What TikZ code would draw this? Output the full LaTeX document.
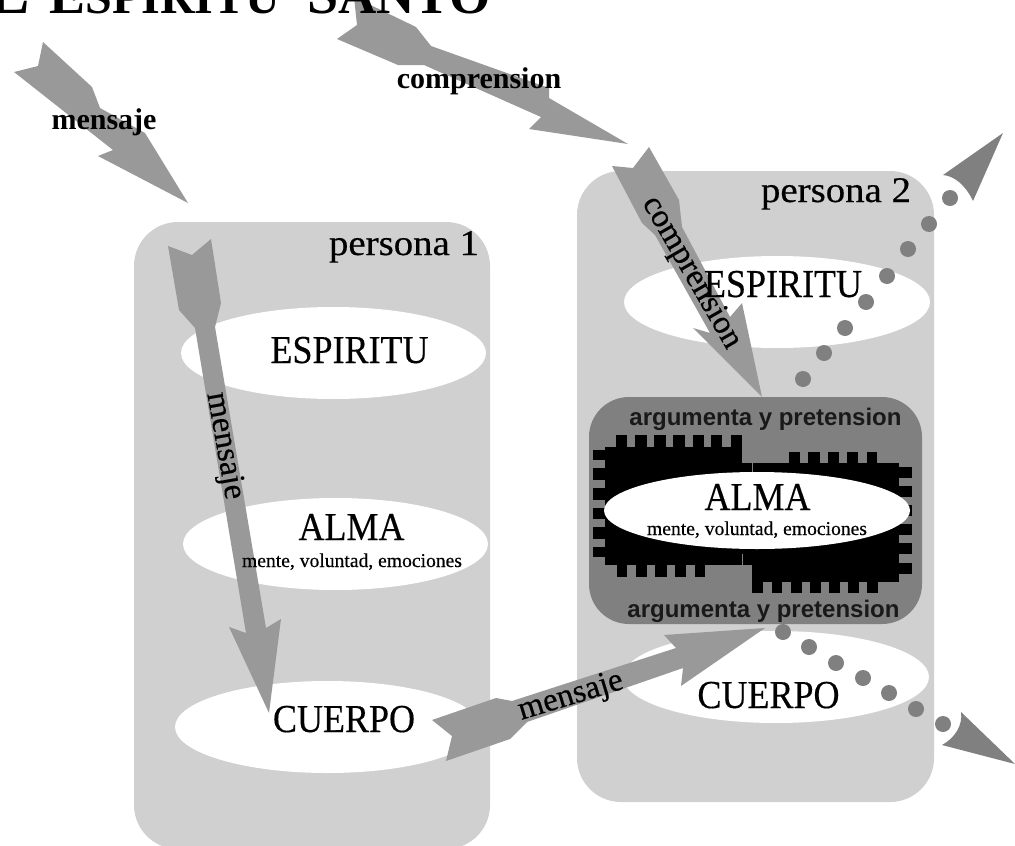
\documentclass[tikz,border=0pt]{standalone}
\usepackage{graphicx}
\usepackage{fontspec}
\setmainfont{Liberation Serif}
\newfontfamily\argfont{Liberation Sans}
\newfontfamily\heavyfont[FakeBold=0.4]{Liberation Serif}
\newcommand{\tallbox}[1]{\scalebox{1}[1.1]{#1}}
\newcommand{\widebox}[1]{\scalebox{1.08}[1]{#1}}
\tikzset{
  persona/.style={fill=boxgray,rounded corners=44pt},
  alma/.style={fill=white},
  arrowshape/.style={fill=arrowgray},
  dotmark/.style={fill=dotgray},
  bigtext/.style={font=\heavyfont\fontsize{36}{36}\selectfont,anchor=base,inner sep=0pt},
  smalltext/.style={font=\heavyfont\fontsize{19.6}{20}\selectfont,anchor=base,inner sep=0pt},
  flowtext/.style={font=\heavyfont\fontsize{33}{33}\selectfont,anchor=center,inner sep=0pt},
  boldtext/.style={font=\fontsize{30}{30}\selectfont\bfseries,anchor=base,inner sep=0pt},
  argtext/.style={font=\argfont\fontsize{24}{24}\selectfont\bfseries,anchor=base,inner sep=0pt,text=black!90},
}
\definecolor{boxgray}{HTML}{D0D0D0}
\definecolor{arrowgray}{HTML}{999999}
\definecolor{dotgray}{HTML}{808080}
\begin{document}
\begin{tikzpicture}[x=1pt,y=-1pt]
\useasboundingbox (0,0) rectangle (1015,846);
\clip (0,0) rectangle (1015,846);
\fill[white] (0,0) rectangle (1015,846);
% boxes
\fill[persona] (134,222) rectangle (490,849);
\fill[persona] (577,171) rectangle (934,802);
% ellipses persona 1
\fill[alma] (333.5,353) ellipse [x radius=152.5,y radius=46];
\fill[alma] (335.5,544) ellipse [x radius=152.5,y radius=46];
\fill[alma] (327.5,727) ellipse [x radius=152.5,y radius=46];
% ellipses persona 2
\fill[alma] (777,302) ellipse [x radius=153,y radius=46];
\fill[alma] (776,677) ellipse [x radius=153,y radius=46];
% dark box
\fill[fill=dotgray,rounded corners=40pt] (589,397) rectangle (922,624);
% black jagged block
\fill[black] (605,447) rectangle (742,565);
\fill[black] (752,463) rectangle (899,582);
\fill[black] (742,463) rectangle (752,565);
\foreach \a/\b in {616/627,635/647,654/666,673/685,693/704,711/722,731/742}
  \fill[black] (\a,435) rectangle (\b,447);
\foreach \a/\b in {450/460,468/480,488/500,508/519,527/539,547/557}
  \fill[black] (593,\a) rectangle (605,\b);
\foreach \a/\b in {617/627,636/647,655/667,675/686,695/705}
  \fill[black] (\a,565) rectangle (\b,577);
\foreach \a/\b in {789/800,808/820,828/839,847/858,867/877}
  \fill[black] (\a,452) rectangle (\b,463);
\foreach \a/\b in {467/478,486/497,505/516,524/535,543/554,563/574}
  \fill[black] (899,\a) rectangle (912,\b);
\foreach \a/\b in {752/763,772/782,791/802,810/821,829/840,848/859,867/878}
  \fill[black] (\a,582) rectangle (\b,593);
\fill[dotgray] (752,463) rectangle (752.6,473);
\fill[dotgray] (741.6,554) rectangle (742.2,565);
\fill[alma] (757,510.5) ellipse [x radius=153,y radius=38.5];
% arrows
\fill[arrowshape] (43,42)--(38,66)--(14,72)--(113,150)--(98,156)--(188,203)--(145,133)--(100,108)--(92,87)--cycle;
\fill[arrowshape] (354,-3)--(357,25)--(337,39)--(398,65)--(424,65)--(541,117)--(529,129)--(628,144)--(549,98)--(549,88)--(431,46)--(416,27)--cycle;
\fill[arrowshape] (168,246)--(192,255)--(211,239)--(221,303)--(215,327)--(266,628)--(281,619)--(269,713)--(229,627)--(246,633)--(195,328)--(179,310)--cycle;
\fill[arrowshape] (649,147)--(633,168)--(612,166)--(642,223)--(655,235)--(710,333)--(693,328)--(762,397)--(742,303)--(730,317)--(682,227)--(679,200)--cycle;
\fill[arrowshape] (432,720)--(452,736)--(446,761)--(510,739)--(527,722)--(683,668)--(681,686)--(765,628)--(664,635)--(676,648)--(512,701)--(496,698)--cycle;
\fill[dotgray] (1003,133)--(943,175) .. controls (955,176) and (966,186) .. (973,201)--cycle;
\fill[dotgray] (1015,764)--(961,712) .. controls (963,725) and (955,738) .. (942,745)--cycle;
% dots
\foreach \x/\y in {803/379,824/353,845/328,866/302,887/276,908/249,929/224,950/198,783/632,809/647,836/663,863/678,889/693,916/709,943/724}
  \fill[dotmark] (\x,\y) circle [radius=8];
% texts
\node[boldtext,anchor=base west] (title) at (-12,13) {\fontsize{62}{62}\selectfont L\hspace{20pt}\fontsize{54}{54}\selectfont E\fontsize{48}{48}\selectfont SPIRITU\hspace{27pt}\fontsize{56}{56}\selectfont S\fontsize{53}{53}\selectfont ANTO};
\node[boldtext] (m0) at (104,129) {mensaje};
\node[boldtext] (c0) at (479,88) {comprension};
\node[bigtext] (p1) at (404,255) {\widebox{persona 1}};
\node[bigtext] (p2) at (836,202) {\widebox{persona 2}};
\node[bigtext] (e1) at (349.5,363) {\tallbox{ESPIRITU}};
\node[bigtext] (a1) at (351.5,540) {\tallbox{ALMA}};
\node[smalltext] (s1) at (352,567) {mente, voluntad, emociones};
\node[bigtext] (c1) at (344,732) {\tallbox{CUERPO}};
\node[bigtext] (e2) at (783,297) {\tallbox{ESPIRITU}};
\node[bigtext] (a2) at (757.5,510) {\tallbox{ALMA}};
\node[smalltext] (s2) at (757,535) {mente, voluntad, emociones};
\node[bigtext] (c2) at (768.5,708) {\tallbox{CUERPO}};
\node[argtext] (g1) at (765.5,425) {argumenta y pretension};
\node[argtext] (g2) at (763.5,617) {argumenta y pretension};
\node[flowtext,rotate=-80] (m1) at (224,446) {mensaje};
\node[flowtext,rotate=-60] (c3) at (691,273) {comprension};
\node[flowtext,rotate=17] (m2) at (571,697) {mensaje};
\end{tikzpicture}
\end{document}
